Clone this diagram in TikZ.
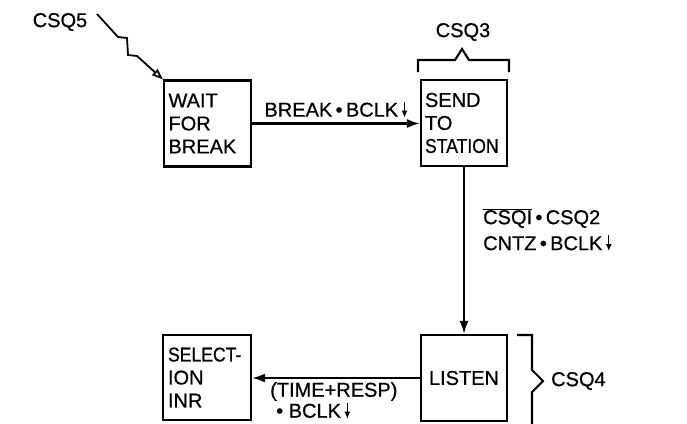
\documentclass[tikz,border=0pt]{standalone}
\usepackage{fontspec}
\setmainfont{Liberation Sans}[FakeBold=0.7]
\usetikzlibrary{arrows.meta,positioning}

\newcommand{\boxfont}{\fontsize{20}{23}\selectfont}
\newcommand{\lblfont}{\fontsize{20}{26}\selectfont}
\newcommand{\narrow}[1]{{\addfontfeature{FakeStretch=0.88}#1}}
\newcommand{\anddot}{\,\textbullet\,}
\newcommand{\clk}{\,\tikz[x=1pt,y=1pt,baseline=0pt]{\draw[line width=1.4pt,-{Latex[length=7pt,width=6pt]}] (0,15) -- (0,-1);}}

\tikzset{
  statebox/.style={draw,line width=2.1pt,minimum width=86pt,minimum height=86pt,
    inner sep=4pt,text width=78pt,align=left,font=\boxfont},
  flow/.style={line width=2.1pt,-{Latex[length=13pt,width=9pt]}},
  cond/.style={font=\lblfont,align=left,inner sep=2pt},
  brace/.style={line width=2.1pt}
}

\begin{document}
\begin{tikzpicture}[x=1pt,y=-1pt]
\useasboundingbox (0,0) rectangle (687,423);

% states
\node[statebox,minimum width=87pt] (wait) at (207.5,123.5) {WAIT\\FOR\\BREAK};
\node[statebox,minimum width=84pt] (send) at (464,123) {SEND\\TO\\\narrow{STATION}};
\node[statebox,minimum width=84pt,align=center] (listen) at (464,378) {LISTEN};
\node[statebox,minimum width=88pt,minimum height=85pt] (sel) at (207,377.5) {\narrow{SELECT-}\\ION\\INR};

% state labels
\node[cond] (csq5) at (60,22) {CSQ5};
\node[cond] (csq3) at (463,32) {CSQ3};
\node[cond,anchor=west] (csq4) at (549,381) {CSQ4};

% transitions
\draw[flow] (wait.east) -- node[cond,above=3pt] (brk) {BREAK\anddot BCLK\clk} (wait.east -| send.west);
\draw[flow] (send.south) -- (listen.north);
\node[cond,anchor=west] (cntz) at (481,230)
  {$\overline{\hbox{CSQI}}$\anddot CSQ2\\CNTZ\anddot BCLK\clk};
\draw[flow] (listen.west) -- (listen.west -| sel.east);
\node[cond,anchor=north west,font=\fontsize{20}{21}\selectfont] (resp) at (268,380)
  {(TIME+RESP)\\\hspace*{6pt}\textbullet\ BCLK\clk};

% entry from CSQ5
\draw[line width=1.8pt,-{Triangle[open,length=11pt,width=8pt]}] (97,14) -- (118,37) -- (127,38)
  -- (128,55) -- (137,56) -- (wait.north west);

% brackets
\draw[brace] (418,72) -- (418,60) -- (455,60) -- (462,49) -- (469,60) -- (509,60) -- (509,72);
\draw[brace] (517,335) -- (532,335) -- (532,370) -- (543,381) -- (532,392) -- (532,430);
\end{tikzpicture}
\end{document}
